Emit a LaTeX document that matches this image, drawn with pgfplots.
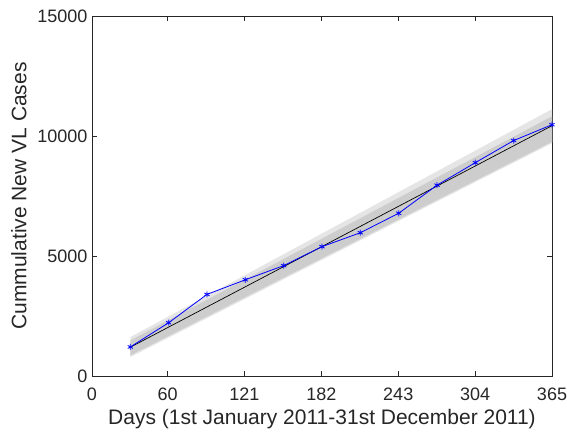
\documentclass[border=0pt]{standalone}
\usepackage{fontspec}
\setmainfont{Liberation Sans}
\usepackage{pgfplots}
\pgfplotsset{compat=1.18}
\definecolor{axgray}{RGB}{38,38,38}
\definecolor{bandout}{RGB}{229,229,229}
\definecolor{bandin}{RGB}{205,205,205}
\begin{document}
\begin{tikzpicture}
\begin{axis}[
  name=ax,
  scale only axis,
  width=460bp, height=360bp,
  xmin=0, xmax=365, ymin=0, ymax=15000,
  xtick={0,60,121,182,243,304,365},
  ytick={0,5000,10000,15000},
  scaled y ticks=false,
  /pgf/number format/assume math mode=true,
  /pgf/number format/set thousands separator={},
  /pgf/number format/fixed,
  tick label style={font=\fontsize{18bp}{20bp}\selectfont, text=axgray},
  label style={font=\fontsize{21bp}{24bp}\selectfont, text=axgray},
  xlabel={Days (1st January 2011-31st December 2011)},
  ylabel={Cummulative New VL Cases},
  axis line style={axgray, line width=0.6pt},
  tick style={axgray, line width=0.6pt},
  tick align=inside,
  major tick length=4.6bp,
  xticklabel style={yshift=-8bp},
  yticklabel style={xshift=-1bp},
  xlabel style={yshift=-2bp},
  ylabel style={yshift=4bp},
]
\addplot[fill=bandout, draw=none] coordinates {(30.42,790) (365,9700) (365,11120) (30.42,1620)} -- cycle;
\addplot[fill=bandin, draw=none] coordinates {(30.42,860) (365,9760) (365,10820) (30.42,1480)} -- cycle;
\addplot[black, line width=0.7pt] coordinates {(30.42,1200) (365,10430)};
\addplot[blue, line width=0.8pt, mark=asterisk, mark size=3bp, mark options={solid, line width=0.8pt}] coordinates {
(30.42,1210) (60.83,2220) (91.25,3400) (121.67,4010) (152.08,4600) (182.5,5390)
(212.92,5970) (243.33,6780) (273.75,7950) (304.17,8890) (334.58,9810) (365,10470)};
\end{axis}
\pgfresetboundingbox
\path[use as bounding box] ([xshift=-92bp,yshift=-62bp]ax.south west) rectangle ++(567bp,438bp);
\end{tikzpicture}
\end{document}
